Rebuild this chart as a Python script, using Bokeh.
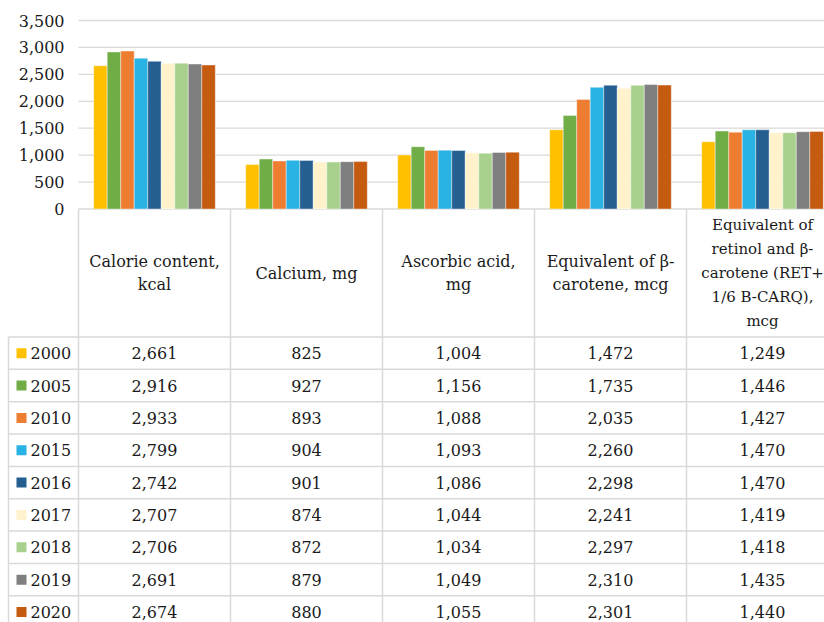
from bokeh.plotting import figure
from bokeh.models import Range1d
from bokeh.core.properties import value
from bokeh.embed import file_html
from bokeh.resources import INLINE

# ---- data -------------------------------------------------------------
categories = [
    "Calorie content,\nkcal",
    "Calcium, mg",
    "Ascorbic acid,\nmg",
    "Equivalent of β-\ncarotene, mcg",
    "Equivalent of\nretinol and β-\ncarotene (RET+\n1/6 B-CARQ),\nmcg",
]
years = ["2000", "2005", "2010", "2015", "2016", "2017", "2018", "2019", "2020"]

v2000 = [2661, 825, 1004, 1472, 1249]
v2005 = [2916, 927, 1156, 1735, 1446]
v2010 = [2933, 893, 1088, 2035, 1427]
v2015 = [2799, 904, 1093, 2260, 1470]
v2016 = [2742, 901, 1086, 2298, 1470]
v2017 = [2707, 874, 1044, 2241, 1419]
v2018 = [2706, 872, 1034, 2297, 1418]
v2019 = [2691, 879, 1049, 2310, 1435]
v2020 = [2674, 880, 1055, 2301, 1440]
series = [v2000, v2005, v2010, v2015, v2016, v2017, v2018, v2019, v2020]

colors = ["#FFC000", "#70AD47", "#ED7D31", "#29B2E4", "#255E91",
          "#FFF2CC", "#A9D18E", "#7F7F7F", "#C55A11"]

y_ticks = [0, 500, 1000, 1500, 2000, 2500, 3000, 3500]

# ---- layout constants -------------------------------------------------
W, H = 824, 622
AXIS_Y = 208.5         # pixel row of the value 0 (top of the table)
TOP_Y = 20             # pixel row of the highest tick
LEFT = 78              # left edge of the first category column
COLW = 152             # width of one category column (px)
HEADER_H = 128         # header row of the data table
ROW_H = 32.35          # data rows of the table
LEGEND_LEFT = 8        # left border of the year column (px)
LABEL_RIGHT = 64       # right edge of the value labels (px)
GROUP = 0.8            # share of a column taken by its bars
FONT = "DejaVu Serif"
FSIZE = "16px"
TXT = "#1a1a1a"
LINE = "#d9d9d9"


def px_to_col(px):
    return (px - LEFT) / COLW


# value scale: 0 sits on AXIS_Y, the top tick on TOP_Y
k = (AXIS_Y - TOP_Y) / max(y_ticks)
y_lo = -(H - AXIS_Y) / k
y_hi = max(y_ticks) + TOP_Y / k

p = figure(width=W, height=H,
           x_range=Range1d(px_to_col(0), px_to_col(W)),
           y_range=Range1d(y_lo, y_hi),
           x_axis_type=None, y_axis_type=None,
           output_backend="svg", toolbar_location=None,
           min_border_left=0, min_border_right=0,
           min_border_top=0, min_border_bottom=0)
p.outline_line_color = None
p.background_fill_color = "white"
p.extra_y_ranges = {"tbl": Range1d(H, 0)}   # table laid out in pixel rows

ncat = len(categories)
n = len(years)
x_end = px_to_col(W)

# ---- value axis: gridlines and labels -----------------------------------
p.segment(x0=[0] * len(y_ticks), y0=y_ticks, x1=[x_end] * len(y_ticks), y1=y_ticks,
          line_color=LINE, line_width=1.3)
p.text(x=[px_to_col(LABEL_RIGHT)] * len(y_ticks), y=y_ticks,
       text=[f"{v:,}" for v in y_ticks],
       text_align="right", text_baseline="middle",
       text_font=value(FONT), text_font_size=FSIZE, text_color=TXT)

# ---- clustered bars -----------------------------------------------------
bw = GROUP / n
for j, (vals, col) in enumerate(zip(series, colors)):
    xs = [i + 0.5 + (j - (n - 1) / 2) * bw for i in range(ncat)]
    p.vbar(x=xs, top=vals, bottom=0, width=bw,
           fill_color=col, line_color="white", line_alpha=0.5, line_width=0.8)

# ---- data table ---------------------------------------------------------
head_top = AXIS_Y
rows_top = AXIS_Y + HEADER_H

vx = list(range(ncat + 1))
p.segment(x0=vx, y0=[head_top] * len(vx), x1=vx, y1=[H] * len(vx),
          line_color=LINE, line_width=1.5, y_range_name="tbl")
p.segment(x0=[px_to_col(LEGEND_LEFT)], y0=[rows_top],
          x1=[px_to_col(LEGEND_LEFT)], y1=[H],
          line_color=LINE, line_width=1.5, y_range_name="tbl")
hy = [rows_top + r * ROW_H for r in range(n + 1)]
p.segment(x0=[px_to_col(LEGEND_LEFT)] * len(hy), y0=hy,
          x1=[x_end] * len(hy), y1=hy,
          line_color=LINE, line_width=1.5, y_range_name="tbl")

# header labels (the long last one set a touch smaller so it fits the page)
head_sizes = [16] * (ncat - 1) + [15]
for i, (label, fs) in enumerate(zip(categories, head_sizes)):
    p.text(x=[i + 0.5], y=[head_top + HEADER_H / 2], text=[label],
           text_align="center", text_baseline="middle",
           text_line_height=1.25 * 16 / fs,
           text_font=value(FONT), text_font_size=f"{fs}px", text_color=TXT,
           y_range_name="tbl")

# legend keys and year labels
row_y = [rows_top + (r + 0.5) * ROW_H for r in range(n)]
p.rect(x=[px_to_col(21)] * n, y=row_y, width=10, height=10,
       width_units="screen", height_units="screen",
       fill_color=colors, line_color=None, y_range_name="tbl")
p.text(x=[px_to_col(30)] * n, y=row_y, text=years,
       text_align="left", text_baseline="middle",
       text_font=value(FONT), text_font_size=FSIZE, text_color=TXT,
       y_range_name="tbl")

# cell values
cx, cy, ct = [], [], []
for r, vals in enumerate(series):
    for i, v in enumerate(vals):
        cx.append(i + 0.5)
        cy.append(row_y[r])
        ct.append(f"{v:,}")
p.text(x=cx, y=cy, text=ct, text_align="center", text_baseline="middle",
       text_font=value(FONT), text_font_size=FSIZE, text_color=TXT,
       y_range_name="tbl")

open("out.html", "w").write(file_html(p, INLINE))
